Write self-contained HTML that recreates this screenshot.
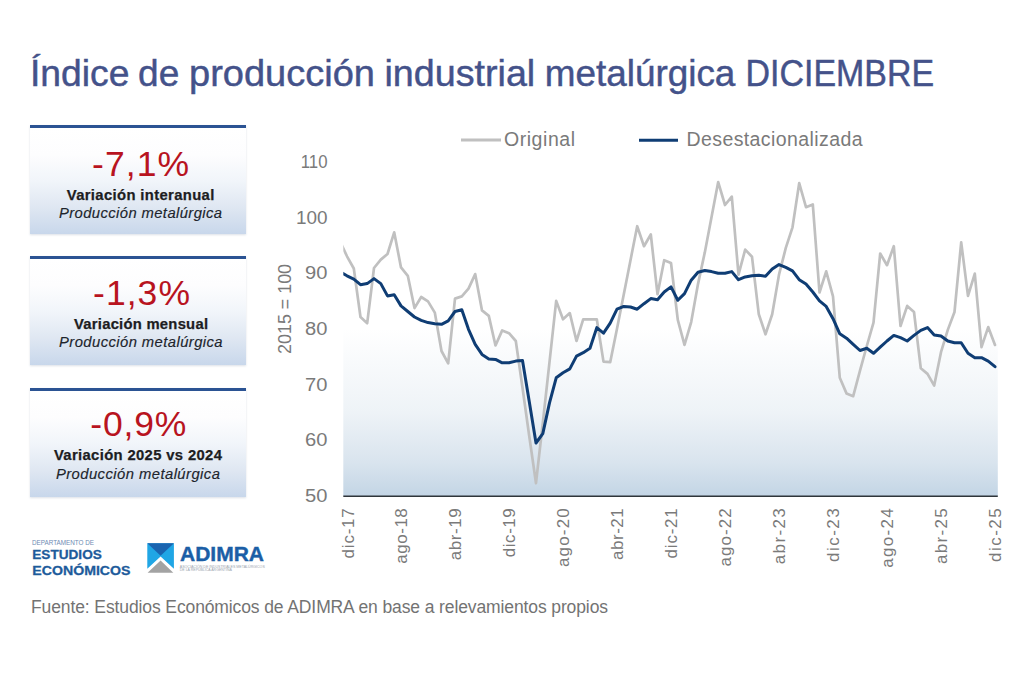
<!DOCTYPE html>
<html><head><meta charset="utf-8">
<style>
html,body{margin:0;padding:0;background:#fff;}
body{width:1024px;height:683px;position:relative;overflow:hidden;font-family:"Liberation Sans",sans-serif;}
.card{position:absolute;left:30.3px;width:215.9px;height:105.5px;border-top:3px solid #2b5393;
 background:linear-gradient(to bottom,#ffffff 0%,#fdfdfe 25%,#f1f5fa 50%,#dfe7f2 75%,#c8d7eb 100%);
 box-shadow:0 1px 2px rgba(110,130,160,0.25);}
svg{position:absolute;left:0;top:0;}
text{font-family:"Liberation Sans",sans-serif;}
</style></head>
<body>
<div class="card" style="top:125px"></div>
<div class="card" style="top:256px"></div>
<div class="card" style="top:388px"></div>

<svg width="1024" height="683" viewBox="0 0 1024 683">
 <defs>
  <linearGradient id="pg" x1="0" y1="0" x2="0" y2="1">
   <stop offset="0" stop-color="#ffffff"/>
   <stop offset="0.5" stop-color="#ffffff"/>
   <stop offset="0.75" stop-color="#eef3f7"/>
   <stop offset="0.9" stop-color="#d9e4ee"/>
   <stop offset="1" stop-color="#c3d5e5"/>
  </linearGradient>
  <clipPath id="cp"><rect x="343.3" y="100" width="654.5" height="400"/></clipPath>
 </defs>
 <!-- title -->
 <g font-size="36" fill="#44528a" stroke="#44528a" stroke-width="0.45" lengthAdjust="spacingAndGlyphs">
  <text x="30.0" y="86.3" textLength="99.5" lengthAdjust="spacingAndGlyphs">Índice</text>
  <text x="138.1" y="86.3" textLength="41.2" lengthAdjust="spacingAndGlyphs">de</text>
  <text x="189.0" y="86.3" textLength="186.0" lengthAdjust="spacingAndGlyphs">producción</text>
  <text x="384.5" y="86.3" textLength="150.7" lengthAdjust="spacingAndGlyphs">industrial</text>
  <text x="544.75" y="86.3" textLength="190.6" lengthAdjust="spacingAndGlyphs">metalúrgica</text>
  <text x="745.5" y="86.3" textLength="188.6" lengthAdjust="spacingAndGlyphs">DICIEMBRE</text>
 </g>

 <!-- cards text -->
 <g text-anchor="middle">
  <text x="140.6" y="176" font-size="35.5" fill="#b8141f" textLength="97" lengthAdjust="spacing">-7,1%</text>
  <text x="140.5" y="199.9" font-size="14.8" font-weight="bold" fill="#1d1d22" stroke="#1d1d22" stroke-width="0.25" textLength="147.5" lengthAdjust="spacing">Variación interanual</text>
  <text x="140.5" y="218.2" font-size="14.8" font-style="italic" fill="#20242c" stroke="#20242c" stroke-width="0.15" textLength="163" lengthAdjust="spacing">Producción metalúrgica</text>

  <text x="141.5" y="305.2" font-size="35.5" fill="#b8141f" textLength="97" lengthAdjust="spacing">-1,3%</text>
  <text x="141" y="328.9" font-size="14.8" font-weight="bold" fill="#1d1d22" stroke="#1d1d22" stroke-width="0.25" textLength="134" lengthAdjust="spacing">Variación mensual</text>
  <text x="140.8" y="347.3" font-size="14.8" font-style="italic" fill="#20242c" stroke="#20242c" stroke-width="0.15" textLength="163.5" lengthAdjust="spacing">Producción metalúrgica</text>

  <text x="138.3" y="436" font-size="35.5" fill="#b8141f" textLength="96" lengthAdjust="spacing">-0,9%</text>
  <text x="137.9" y="460.3" font-size="14.8" font-weight="bold" fill="#1d1d22" stroke="#1d1d22" stroke-width="0.25" textLength="168" lengthAdjust="spacing">Variación 2025 vs 2024</text>
  <text x="137.9" y="478.5" font-size="14.8" font-style="italic" fill="#20242c" stroke="#20242c" stroke-width="0.15" textLength="164" lengthAdjust="spacing">Producción metalúrgica</text>
 </g>

 <rect x="343.3" y="161" width="654.5" height="335" fill="url(#pg)"/>
 <g clip-path="url(#cp)" fill="none" stroke-linejoin="round" stroke-linecap="round">
  <polyline points="340.2,241.8 347.0,256.3 353.8,268.5 360.5,317.0 367.2,323.2 374.0,268.0 380.8,259.6 387.5,254.0 394.2,232.3 401.0,267.4 407.8,275.8 414.5,308.1 421.2,297.0 428.0,301.4 434.8,312.6 441.5,351.0 448.2,363.3 455.0,298.6 461.8,296.4 468.5,288.6 475.2,274.1 482.0,310.4 488.8,315.9 495.5,345.5 502.2,330.4 509.0,333.2 515.8,341.0 522.5,387.8 529.2,435.8 536.0,483.2 542.8,423.0 549.5,362.2 556.2,300.9 563.0,319.3 569.8,313.1 576.5,341.0 583.2,319.3 590.0,319.3 596.8,319.3 603.5,361.6 610.2,362.2 617.0,328.8 623.8,294.2 630.5,260.2 637.2,226.2 644.0,246.2 650.8,234.5 657.5,294.2 664.2,260.2 671.0,263.0 677.8,319.8 684.5,344.9 691.2,322.1 698.0,284.1 704.8,252.4 711.5,217.2 718.2,182.1 725.0,205.0 731.8,196.6 738.5,274.7 745.2,249.6 752.0,256.8 758.8,314.3 765.5,334.3 772.2,314.3 779.0,274.7 785.8,247.9 792.5,227.3 799.2,183.2 806.0,207.2 812.8,204.4 819.5,292.5 826.2,271.3 833.0,296.4 839.8,377.8 846.5,393.4 853.2,396.2 860.0,370.6 866.8,346.0 873.5,322.6 880.2,253.5 887.0,265.2 893.8,246.2 900.5,326.0 907.2,305.9 914.0,312.0 920.8,368.3 927.5,373.9 934.2,385.6 941.0,352.2 947.8,329.9 954.5,312.0 961.2,242.3 968.0,295.9 974.8,273.6 981.5,347.1 988.2,327.1 995.0,344.9" stroke="#c0c0c0" stroke-width="2.7"/>
  <polyline points="340.2,271.9 347.0,275.8 353.8,279.1 360.5,284.7 367.2,283.6 374.0,278.6 380.8,283.6 387.5,295.9 394.2,294.7 401.0,305.9 407.8,311.5 414.5,317.0 421.2,320.4 428.0,322.6 434.8,323.7 441.5,324.3 448.2,320.9 455.0,311.5 461.8,309.8 468.5,329.3 475.2,344.4 482.0,354.4 488.8,358.9 495.5,359.4 502.2,362.8 509.0,362.8 515.8,361.1 522.5,360.5 529.2,401.2 536.0,443.0 542.8,433.6 549.5,402.9 556.2,377.8 563.0,372.8 569.8,368.9 576.5,356.1 583.2,352.7 590.0,348.3 596.8,327.6 603.5,333.2 610.2,323.2 617.0,309.2 623.8,306.4 630.5,307.0 637.2,309.2 644.0,303.7 650.8,298.6 657.5,299.8 664.2,292.0 671.0,286.9 677.8,300.3 684.5,293.6 691.2,280.2 698.0,272.2 704.8,270.5 711.5,271.6 718.2,273.3 725.0,273.3 731.8,271.6 738.5,279.7 745.2,276.9 752.0,275.8 758.8,275.2 765.5,276.3 772.2,269.1 779.0,264.6 785.8,267.4 792.5,270.8 799.2,279.7 806.0,284.1 812.8,292.0 819.5,300.9 826.2,306.4 833.0,318.7 839.8,333.8 846.5,338.2 853.2,344.4 860.0,350.5 866.8,348.3 873.5,353.3 880.2,347.1 887.0,341.0 893.8,335.4 900.5,337.7 907.2,341.0 914.0,335.4 920.8,330.4 927.5,327.6 934.2,334.9 941.0,336.0 947.8,341.0 954.5,342.7 961.2,342.7 968.0,353.3 974.8,357.7 981.5,357.7 988.2,361.1 995.0,366.7" stroke="#0f3d74" stroke-width="3"/>
 </g>
 <line x1="343.3" y1="496.3" x2="997.8" y2="496.3" stroke="#2f353a" stroke-width="1.6"/>
 <g font-size="17.5" fill="#7a7a7a" text-anchor="end">
  <text x="327.5" y="167.8" textLength="26.8" lengthAdjust="spacingAndGlyphs">110</text>
  <text x="327.5" y="223.5" textLength="31.6" lengthAdjust="spacingAndGlyphs">100</text>
  <text x="327.5" y="279.1" textLength="22.4" lengthAdjust="spacingAndGlyphs">90</text>
  <text x="327.5" y="334.8" textLength="22.4" lengthAdjust="spacingAndGlyphs">80</text>
  <text x="327.5" y="390.5" textLength="22.4" lengthAdjust="spacingAndGlyphs">70</text>
  <text x="327.5" y="446.2" textLength="22.4" lengthAdjust="spacingAndGlyphs">60</text>
  <text x="327.5" y="502" textLength="22.4" lengthAdjust="spacingAndGlyphs">50</text>
 </g>
 <text transform="translate(290.5,308.9) rotate(-90)" font-size="18" fill="#7a7a7a" text-anchor="middle" textLength="90" lengthAdjust="spacing">2015 = 100</text>
 <g font-size="17" fill="#7a7a7a" text-anchor="end">
  <text transform="translate(353.50,508.2) rotate(-90)" textLength="50.2" lengthAdjust="spacing">dic-17</text>
  <text transform="translate(407.44,508.2) rotate(-90)" textLength="55.5" lengthAdjust="spacing">ago-18</text>
  <text transform="translate(461.38,508.2) rotate(-90)" textLength="52.0" lengthAdjust="spacing">abr-19</text>
  <text transform="translate(515.32,508.2) rotate(-90)" textLength="49.0" lengthAdjust="spacing">dic-19</text>
  <text transform="translate(569.26,508.2) rotate(-90)" textLength="58.9" lengthAdjust="spacing">ago-20</text>
  <text transform="translate(623.20,508.2) rotate(-90)" textLength="51.9" lengthAdjust="spacing">abr-21</text>
  <text transform="translate(677.14,508.2) rotate(-90)" textLength="50.2" lengthAdjust="spacing">dic-21</text>
  <text transform="translate(731.08,508.2) rotate(-90)" textLength="58.4" lengthAdjust="spacing">ago-22</text>
  <text transform="translate(785.02,508.2) rotate(-90)" textLength="56.1" lengthAdjust="spacing">abr-23</text>
  <text transform="translate(838.96,508.2) rotate(-90)" textLength="53.9" lengthAdjust="spacing">dic-23</text>
  <text transform="translate(892.90,508.2) rotate(-90)" textLength="59.5" lengthAdjust="spacing">ago-24</text>
  <text transform="translate(946.84,508.2) rotate(-90)" textLength="55.8" lengthAdjust="spacing">abr-25</text>
  <text transform="translate(1000.78,508.2) rotate(-90)" textLength="53.9" lengthAdjust="spacing">dic-25</text>
 </g>
 <line x1="461" y1="140" x2="501" y2="140" stroke="#c0c0c0" stroke-width="2.8"/>
 <text x="504" y="145.5" font-size="19.5" fill="#7a7a7a" textLength="71" lengthAdjust="spacing">Original</text>
 <line x1="639" y1="140.2" x2="678" y2="140.2" stroke="#0f3d74" stroke-width="3"/>
 <text x="686.5" y="145.6" font-size="19.5" fill="#7a7a7a" textLength="176" lengthAdjust="spacing">Desestacionalizada</text>

 <!-- Estudios economicos logo -->
 <text x="32" y="545.3" font-size="6.8" fill="#6d8bb3" textLength="62" lengthAdjust="spacingAndGlyphs">DEPARTAMENTO DE</text>
 <text x="32.3" y="558.8" font-size="13.5" font-weight="bold" fill="#1d5b9b" stroke="#1d5b9b" stroke-width="0.3" textLength="69.5" lengthAdjust="spacingAndGlyphs">ESTUDIOS</text>
 <text x="32.3" y="574.5" font-size="13.5" font-weight="bold" fill="#1d5b9b" stroke="#1d5b9b" stroke-width="0.3" textLength="98.2" lengthAdjust="spacingAndGlyphs">ECONÓMICOS</text>
 <!-- ADIMRA logo -->
 <g>
  <polygon points="147.3,543.3 173.9,543.3 173.9,568.7 160.6,556.4 147.3,568.7" fill="#20a6e5"/>
  <polygon points="147.3,543.3 173.9,543.3 160.6,555.8" fill="#1a64b0"/>
  <polygon points="147.6,572.8 160.6,560.5 173.3,572.8" fill="#a3a3a3"/>
 </g>
 <text x="180" y="560.9" font-size="20.5" font-weight="bold" fill="#1b5ea6" stroke="#1b5ea6" stroke-width="0.4" textLength="84" lengthAdjust="spacingAndGlyphs">ADIMRA</text>
 <text x="179.8" y="567.5" font-size="4" fill="#9aa3ad" textLength="85" lengthAdjust="spacingAndGlyphs">ASOCIACIÓN DE INDUSTRIALES METALÚRGICOS</text>
 <text x="179.8" y="571" font-size="4" fill="#9aa3ad" textLength="52" lengthAdjust="spacingAndGlyphs">DE LA REPÚBLICA ARGENTINA</text>

 <text x="31" y="612.5" font-size="17.5" fill="#737373" textLength="577" lengthAdjust="spacing">Fuente: Estudios Económicos de ADIMRA en base a relevamientos propios</text>
</svg>
</body></html>
